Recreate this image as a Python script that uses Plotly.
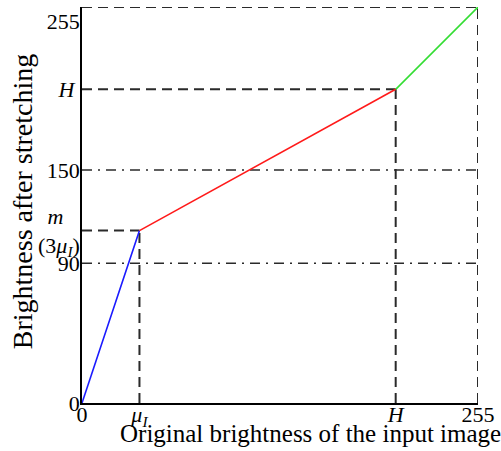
import plotly.graph_objects as go

# ---- data ----
mu1 = 37          # mean brightness of input image (x of first knee)
m_val = 111       # m = 3*mu1
H_val = 202       # H knee
max_val = 255
ref_levels = [90, 150]

x_ticks = [0, mu1, H_val, max_val]
x_ticktext = ["0", "<i>μ</i><sub><i>I</i></sub>", "<i>H</i>", "255"]
y_ticks = [0, ref_levels[0], m_val, ref_levels[1], H_val, max_val]
y_ticktext = ["0", "90", "<i>m</i>   <br>(3<i>μ</i><sub><i>I</i></sub>)", "150", "<i>H</i> ", "<br>255"]

seg_x = [[0, mu1], [mu1, H_val], [H_val, max_val]]
seg_y = [[0, m_val], [m_val, H_val], [H_val, max_val]]
seg_colors = ["#1a1aff", "#ff1a1a", "#33dd33"]

x_title = "Original brightness of the input image"
y_title = "Brightness after stretching"

FONT = "Liberation Serif, Times New Roman, serif"

fig = go.Figure()

dash_style = dict(color="#2a2a2a", width=2, dash="10px,6px")
dashdot_style = dict(color="#2a2a2a", width=1.6, dash="10px,6px,2px,6px")

def guide(xs, ys, style):
    fig.add_trace(go.Scatter(x=xs, y=ys, mode="lines", line=style,
                             hoverinfo="skip", showlegend=False, cliponaxis=False))

# dashed guides
guide([0, max_val], [max_val, max_val], dash_style)
guide([max_val, max_val], [0, max_val], dash_style)
guide([0, H_val], [H_val, H_val], dash_style)
guide([H_val, H_val], [0, H_val], dash_style)
guide([0, mu1], [m_val, m_val], dash_style)
guide([mu1, mu1], [0, m_val], dash_style)
# dash-dot reference levels
for lv in ref_levels:
    guide([0, max_val], [lv, lv], dashdot_style)

# piecewise stretching curve
for xs, ys, c in zip(seg_x, seg_y, seg_colors):
    fig.add_trace(go.Scatter(x=xs, y=ys, mode="lines", line=dict(color=c, width=1.6),
                             showlegend=False, cliponaxis=False))

fig.update_layout(
    width=501, height=451,
    margin=dict(l=82, r=23, t=7, b=48, autoexpand=False),
    paper_bgcolor="white", plot_bgcolor="white",
    font=dict(family=FONT, size=22, color="black"),
    showlegend=False,
)
fig.update_xaxes(
    range=[0, max_val], tickmode="array", tickvals=x_ticks, ticktext=x_ticktext,
    showgrid=False, zeroline=False, showline=True, linecolor="black", linewidth=1.5,
    ticks="", ticklen=0, ticklabelstandoff=-9, automargin=False, ticklabeloverflow="allow",
    tickfont=dict(family=FONT, size=22, color="black"),
)
fig.update_yaxes(
    range=[0, max_val], tickmode="array", tickvals=y_ticks, ticktext=y_ticktext,
    showgrid=False, zeroline=False, showline=True, linecolor="black", linewidth=1.5,
    ticks="", ticklen=0, ticklabelstandoff=-4, automargin=False, ticklabeloverflow="allow",
    tickfont=dict(family=FONT, size=22, color="black"),
)
fig.add_annotation(
    text=x_title, xref="paper", yref="paper",
    x=0.576, y=0, yshift=-15, xanchor="center", yanchor="top", showarrow=False,
    font=dict(family=FONT, size=25, color="black"),
)
fig.add_annotation(
    text=y_title, xref="paper", yref="paper", textangle=-90,
    x=0, xshift=-60, y=0.507, xanchor="center", yanchor="middle", showarrow=False,
    font=dict(family=FONT, size=28, color="black"),
)

fig.write_html("out.html", config={"displayModeBar": False},
               post_script="document.body.style.margin='0';")
